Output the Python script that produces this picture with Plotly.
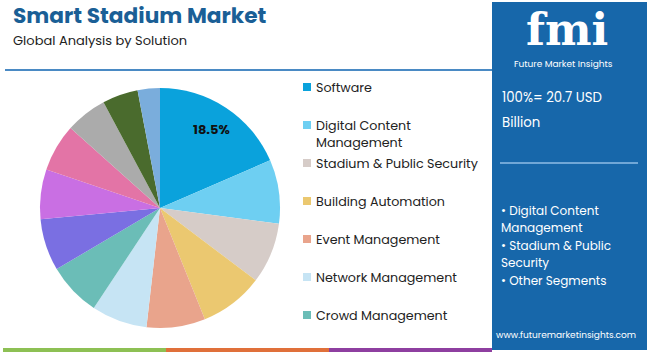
import plotly.graph_objects as go

categories = ["Software", "Digital Content Management", "Stadium & Public Security",
              "Building Automation", "Event Management", "Network Management",
              "Crowd Management", "Segment 8", "Segment 9", "Segment 10",
              "Segment 11", "Segment 12", "Segment 13"]
shares = [18.5, 8.6, 8.2, 8.6, 7.9, 7.5, 7.2, 7.0, 6.7, 6.4, 5.6, 4.8, 3.0]
colors = ["#0aa2dc", "#6ecff2", "#d6ccc8", "#ebc870", "#e9a48c", "#c6e4f4",
          "#6bbdb7", "#7a6fe2", "#c96fe3", "#e374a6", "#ababab", "#4a6b2d", "#7aaddc"]
legend_lines = [["Software"], ["Digital Content", "Management"], ["Stadium & Public Security"],
                ["Building Automation"], ["Event Management"], ["Network Management"],
                ["Crowd Management"]]
legend_y = [87, 125, 163, 201, 239, 277, 315]
slice_text = ["18.5%"] + [""] * 12
panel_top = ["100%= 20.7 USD", "Billion"]
panel_bullets = ["• Digital Content", "Management", "• Stadium & Public", "Security", "• Other Segments"]

FONT = "Poppins, Open Sans, sans-serif"
W, H = 650, 352

def py(y):
    return 1 - y / H

def px(x):
    return x / W

fig = go.Figure()
pie_domain = dict(x=[px(40), px(280)], y=[py(328), py(88)])
fig.add_trace(go.Pie(
    labels=categories, values=shares, sort=False, direction="clockwise", rotation=0,
    marker=dict(colors=colors, line=dict(width=0)),
    textinfo="none", domain=pie_domain, showlegend=False, hoverinfo="label+percent",
))
# transparent ring used only to place the label in the outer part of the slice
fig.add_trace(go.Pie(
    labels=categories, values=shares, sort=False, direction="clockwise", rotation=0, hole=0.56,
    marker=dict(colors=["rgba(0,0,0,0)"] * len(shares), line=dict(width=0)),
    text=slice_text, texttemplate="%{text}", textposition="inside",
    insidetextorientation="horizontal",
    textfont=dict(family=FONT, size=13, color="#111111", weight="bold"),
    domain=pie_domain, showlegend=False, hoverinfo="skip",
))

shapes = []
annotations = []

def txt(x, y, s, size, color, anchor="left", family=FONT, pad=1):
    annotations.append(dict(x=px(x), y=py(y), xref="paper", yref="paper", xanchor=anchor,
                            yanchor="middle", text=s, showarrow=False, align="left", borderpad=pad,
                            font=dict(family=family, size=size, color=color)))

# title
txt(12, 16, "<b>Smart Stadium Market</b>", 21.7, "#1a5f96", pad=0)
txt(12, 41, "Global Analysis by Solution", 13, "#222222", pad=0)
shapes.append(dict(type="line", xref="paper", yref="paper", x0=px(5), x1=px(492), y0=py(70), y1=py(70),
                   line=dict(color="#4a8ac4", width=2)))

# legend
for i, lines in enumerate(legend_lines):
    y = legend_y[i]
    shapes.append(dict(type="rect", xref="paper", yref="paper", x0=px(303), x1=px(311),
                       y0=py(y + 4), y1=py(y - 4), fillcolor=colors[i], line=dict(width=0)))
    for j, ln in enumerate(lines):
        txt(315, y + j * 17.5, ln, 12.7, "#222222", pad=0)

# right panel
shapes.append(dict(type="rect", xref="paper", yref="paper", x0=px(492), x1=px(647), y0=py(350), y1=py(2),
                   fillcolor="#1767aa", line=dict(width=0), layer="below"))
txt(567, 30, "<b>fmi</b>", 44, "white", anchor="center", family="DejaVu Serif, serif", pad=0)
txt(563, 64, "Future Market Insights", 9, "white", anchor="center", pad=0)
for j, ln in enumerate(panel_top):
    txt(501, 98 + j * 24, ln, 13.3, "white", pad=0)
shapes.append(dict(type="line", xref="paper", yref="paper", x0=px(500), x1=px(638), y0=py(163), y1=py(163),
                   line=dict(color="#8fbde6", width=1.5)))
for j, ln in enumerate(panel_bullets):
    txt(500, 210 + j * 17.5, ln, 12, "white", pad=0)
txt(566, 335, "www.futuremarketinsights.com", 9, "white", anchor="center", pad=0)

# bottom strip
for x0, x1, c in [(3, 166, "#8dc054"), (166, 329, "#e0703a"), (329, 492, "#8e3fa0")]:
    shapes.append(dict(type="rect", xref="paper", yref="paper", x0=px(x0), x1=px(x1), y0=0, y1=py(348),
                       fillcolor=c, line=dict(width=0)))

fig.update_layout(width=W, height=H, margin=dict(l=0, r=0, t=0, b=0),
                  paper_bgcolor="white", plot_bgcolor="white",
                  shapes=shapes, annotations=annotations, showlegend=False,
                  font=dict(family=FONT))
fig.write_html("out.html")
